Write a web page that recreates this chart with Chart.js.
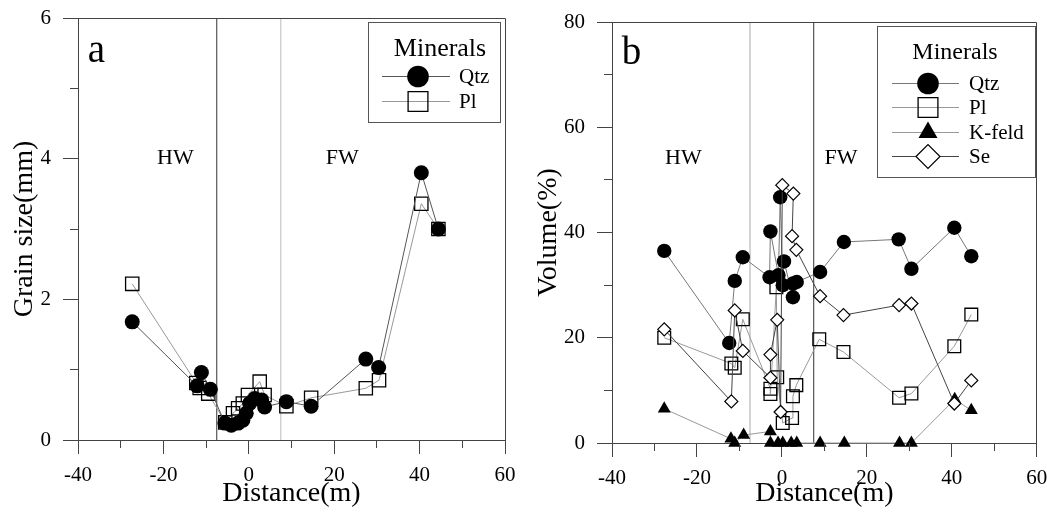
<!DOCTYPE html>
<html>
<head>
<meta charset="utf-8">
<script src="https://cdn.jsdelivr.net/npm/chart.js@4.4.0/dist/chart.umd.min.js"></script>
<style>
  html, body { margin: 0; padding: 0; background: #fff; }
  #wrap { position: relative; width: 1047px; height: 516px; }
  .panel { position: absolute; top: 0; }
</style>
</head>
<body>
<div id="wrap">
  <div class="panel" style="left:0;width:520px;height:516px"><canvas id="chartA" width="520" height="516"></canvas></div>
  <div class="panel" style="left:520px;width:527px;height:516px"><canvas id="chartB" width="527" height="516"></canvas></div>
</div>
<script>
// ---- values ----
const xTicks = [-40, -20, 0, 20, 40, 60];
const xMinorTicks = [-30, -10, 10, 30, 50];
const yTicksA = [0, 2, 4, 6];
const yMinorTicksA = [1, 3, 5];
const yTicksB = [0, 20, 40, 60, 80];
const yMinorTicksB = [10, 30, 50, 70];

// HW / FW contacts (m)
const contactDist = [-7.5, 7.5];

// panel a: grain size (mm)
const qtzSizeDist = [-27.3, -12.1, -11.1, -9.0, -5.6, -4.1, -2.5, -1.4, -0.6, 0.2, 1.4, 3.0, 3.7, 8.8, 14.6, 27.4, 30.4, 40.4, 44.4];
const qtzSize     = [1.68, 0.77, 0.96, 0.72, 0.24, 0.21, 0.24, 0.28, 0.38, 0.52, 0.59, 0.57, 0.47, 0.545, 0.48, 1.15, 1.03, 3.80, 3.00];
const plSizeDist  = [-27.3, -12.3, -11.5, -9.5, -5.5, -3.7, -2.5, -1.4, -0.2, 2.55, 3.7, 8.8, 14.6, 27.4, 30.5, 40.4, 44.4];
const plSize      = [2.22, 0.81, 0.74, 0.66, 0.25, 0.38, 0.45, 0.52, 0.64, 0.83, 0.64, 0.48, 0.60, 0.735, 0.85, 3.36, 3.00];

// panel b: volume (%)
const qtzVolDist = [-27.7, -12.4, -11.1, -9.2, -2.9, -2.7, -0.8, -0.4, 0.2, 0.5, 2.6, 2.6, 3.5, 9.0, 14.6, 27.5, 30.5, 40.6, 44.6];
const qtzVol     = [36.5, 19.0, 30.8, 35.3, 31.5, 40.2, 31.9, 46.7, 30.0, 34.5, 27.7, 30.3, 30.6, 32.5, 38.2, 38.7, 33.1, 40.9, 35.5];
const plVolDist  = [-27.7, -11.9, -11.1, -9.2, -2.7, -2.7, -1.3, -1.1, 0.2, 2.4, 2.6, 3.4, 8.8, 14.5, 27.6, 30.5, 40.6, 44.6];
const plVol      = [20.0, 15.1, 14.3, 23.5, 10.3, 9.3, 29.6, 12.5, 3.8, 4.75, 8.9, 11.0, 19.7, 17.3, 8.6, 9.4, 18.4, 24.4];
const kfVolDist  = [-27.7, -12.0, -11.1, -9.0, -2.7, -2.7, -0.9, 0.2, 2.2, 3.5, 9.0, 14.7, 27.7, 30.5, 40.7, 44.6];
const kfVol      = [6.5, 0.8, 0.0, 1.5, 2.2, 0.0, 0.0, 0.0, 0.0, 0.0, 0.0, 0.0, 0.0, 0.0, 8.3, 6.2];
const seVolDist  = [-27.7, -11.9, -11.1, -9.2, -2.7, -2.7, -1.1, -0.3, 0.1, 2.7, 2.4, 3.4, 9.0, 14.5, 27.6, 30.5, 40.6, 44.6];
const seVol      = [21.6, 7.9, 25.2, 17.5, 12.4, 16.8, 23.4, 5.9, 49.0, 47.4, 39.3, 36.7, 27.9, 24.3, 26.2, 26.5, 7.5, 11.9];

const serif = '"Liberation Serif", "Times New Roman", serif';

function pts(xs, ys) {
    return xs.map((v, i) => ({x: v, y: ys[i]}));
}

// one mineral series: markers joined by a thin line
function series(label, xs, ys, style) {
    return Object.assign({
        label: label,
        data: pts(xs, ys),
        showLine: true,
        borderWidth: 1,
        clip: false,
        inLegend: true,
        order: 1
    }, style);
}

// vertical contact line from bottom to top of the y axis
function contact(xv, yTicks, color) {
    return {
        data: [{x: xv, y: yTicks[0]}, {x: xv, y: yTicks[yTicks.length - 1]}],
        showLine: true,
        borderColor: color,
        borderWidth: 1,
        pointRadius: 0,
        inLegend: false,
        order: 9
    };
}

const qtzStyle = {pointStyle: 'circle', pointRadius: 7.5, pointBackgroundColor: '#000', pointBorderColor: '#000', pointBorderWidth: 0, legendRadius: 10.8};
const plStyle  = {pointStyle: 'rect', pointRadius: 9.4, pointBackgroundColor: 'rgba(0,0,0,0)', pointBorderColor: '#000', pointBorderWidth: 1.3, legendRadius: 14};
const kfStyle  = {pointStyle: 'triangle', pointRadius: 7.5, pointBackgroundColor: '#000', pointBorderColor: '#000', pointBorderWidth: 0, legendRadius: 11};
const seStyle  = {pointStyle: 'rectRot', pointRadius: 6.5, pointBackgroundColor: '#fff', pointBorderColor: '#000', pointBorderWidth: 1.2, legendRadius: 12, order: 0};

// top/right frame and the short minor ticks
const frameTicks = {
    id: 'frameTicks',
    afterDraw(chart, args, opts) {
        const {ctx, chartArea: a, scales: {x, y}} = chart;
        const al = v => Math.round(v - 0.5) + 0.5;
        ctx.save();
        ctx.strokeStyle = opts.color;
        ctx.lineWidth = 1;
        ctx.beginPath();
        ctx.moveTo(al(a.left), al(a.top));
        ctx.lineTo(al(a.right), al(a.top));
        ctx.lineTo(al(a.right), al(a.bottom));
        opts.xMinor.forEach(v => {
            const px = al(x.getPixelForValue(v));
            ctx.moveTo(px, a.bottom);
            ctx.lineTo(px, a.bottom + opts.minorLen);
        });
        opts.yMinor.forEach(v => {
            const py = al(y.getPixelForValue(v));
            ctx.moveTo(a.left, py);
            ctx.lineTo(a.left - opts.minorLen, py);
        });
        ctx.stroke();
        ctx.restore();
    }
};

// panel letter and HW / FW labels
const panelText = {
    id: 'panelText',
    afterDatasetsDraw(chart, args, opts) {
        const {ctx, scales: {x, y}} = chart;
        ctx.save();
        ctx.fillStyle = '#000';
        ctx.textBaseline = 'alphabetic';
        opts.items.forEach(t => {
            ctx.font = t.size + 'px ' + serif;
            ctx.textAlign = t.align;
            ctx.fillText(t.text, x.getPixelForValue(t.x), y.getPixelForValue(t.y));
        });
        ctx.restore();
    }
};

// boxed "Minerals" legend inside the plot area
const boxLegend = {
    id: 'boxLegend',
    afterDraw(chart, args, opts) {
        const {ctx, chartArea: a} = chart;
        const left = Math.round(a.right - opts.right - opts.width);
        const top = Math.round(a.top + opts.top);
        ctx.save();
        ctx.fillStyle = '#fff';
        ctx.fillRect(left, top, opts.width, opts.height);
        ctx.strokeStyle = '#555';
        ctx.lineWidth = 1;
        ctx.strokeRect(left + 0.5, top + 0.5, opts.width, opts.height);

        ctx.fillStyle = '#000';
        ctx.font = opts.titleSize + 'px ' + serif;
        ctx.textAlign = 'center';
        ctx.textBaseline = 'alphabetic';
        ctx.fillText(opts.title, left + opts.titleX, top + opts.titleBaseline);

        const items = chart.data.datasets.filter(d => d.inLegend);
        items.forEach((ds, i) => {
            const cy = Math.round(top + opts.firstRow + i * opts.rowStep) + 0.5;
            ctx.strokeStyle = ds.borderColor;
            ctx.lineWidth = 1;
            ctx.beginPath();
            ctx.moveTo(left + opts.lineFrom, cy);
            ctx.lineTo(left + opts.lineTo, cy);
            ctx.stroke();

            ctx.fillStyle = ds.pointBackgroundColor;
            ctx.strokeStyle = ds.pointBorderColor;
            ctx.lineWidth = ds.pointBorderWidth;
            Chart.helpers.drawPoint(ctx, {
                pointStyle: ds.pointStyle,
                radius: ds.legendRadius,
                borderWidth: ds.pointBorderWidth,
                rotation: 0
            }, left + opts.markerX, cy);

            ctx.fillStyle = '#000';
            ctx.font = opts.labelSize + 'px ' + serif;
            ctx.textAlign = 'left';
            ctx.textBaseline = 'middle';
            ctx.fillText(ds.label, left + opts.textX, cy + 1);
        });
        ctx.restore();
    }
};

// keep label overflow from pushing the plot area in; layout padding decides it
function noOverflow(s) {
    s.paddingTop = 0;
    s.paddingBottom = 0;
    s.paddingLeft = 0;
    s.paddingRight = 0;
}

function makeScales(yTicks, yTitle, yWidth, xHeight, yTitlePad) {
    const tickFont = {family: serif, size: 21};
    return {
        x: {
            type: 'linear',
            min: xTicks[0],
            max: xTicks[xTicks.length - 1],
            afterBuildTicks: s => { s.ticks = xTicks.map(v => ({value: v})); },
            ticks: {font: tickFont, color: '#000', padding: 9, maxRotation: 0, autoSkip: false, callback: v => String(v)},
            grid: {drawOnChartArea: false, tickLength: 14, color: '#444'},
            border: {color: '#444'},
            title: {display: true, text: 'Distance(m)', color: '#000', font: {family: serif, size: 28}, padding: {top: 0, bottom: 2}},
            afterFit: s => { s.height = xHeight; noOverflow(s); }
        },
        y: {
            type: 'linear',
            min: yTicks[0],
            max: yTicks[yTicks.length - 1],
            afterBuildTicks: s => { s.ticks = yTicks.map(v => ({value: v})); },
            ticks: {font: tickFont, color: '#000', padding: 12, autoSkip: false, callback: v => String(v)},
            grid: {drawOnChartArea: false, tickLength: 15, color: '#444'},
            border: {color: '#444'},
            title: {display: true, text: yTitle, color: '#000', font: {family: serif, size: 28}, padding: {top: yTitlePad, bottom: 0}},
            afterFit: s => { s.width = yWidth; noOverflow(s); }
        }
    };
}

const chartA = new Chart(document.getElementById('chartA').getContext('2d'), {
    type: 'scatter',
    data: {
        datasets: [
            series('Qtz', qtzSizeDist, qtzSize, Object.assign({borderColor: '#555'}, qtzStyle)),
            series('Pl', plSizeDist, plSize, Object.assign({borderColor: '#999'}, plStyle)),
            contact(contactDist[0], yTicksA, '#333'),
            contact(contactDist[1], yTicksA, '#bbb')
        ]
    },
    options: {
        responsive: false,
        animation: false,
        events: [],
        layout: {padding: {left: 4, top: 18, right: 15, bottom: 4}},
        scales: makeScales(yTicksA, 'Grain size(mm)', 74, 72, 4),
        plugins: {
            legend: {display: false},
            tooltip: {enabled: false},
            frameTicks: {color: '#444', minorLen: 8, xMinor: xMinorTicks, yMinor: yMinorTicksA},
            panelText: {items: [
                {text: 'a', x: -37.7, y: 5.38, size: 39, align: 'left'},
                {text: 'HW', x: -17.2, y: 3.93, size: 22, align: 'center'},
                {text: 'FW', x: 21.9, y: 3.93, size: 22, align: 'center'}
            ]},
            boxLegend: {title: 'Minerals', width: 132, height: 100, right: 5, top: 4,
                titleSize: 26, labelSize: 21, titleX: 72, titleBaseline: 33.5, firstRow: 53.7, rowStep: 25,
                lineFrom: 14, lineTo: 82, markerX: 50, textX: 91}
        }
    },
    plugins: [frameTicks, panelText, boxLegend]
});

const chartB = new Chart(document.getElementById('chartB').getContext('2d'), {
    type: 'scatter',
    data: {
        datasets: [
            series('Qtz', qtzVolDist, qtzVol, Object.assign({borderColor: '#777'}, qtzStyle, {pointRadius: 7.2})),
            series('Pl', plVolDist, plVol, Object.assign({borderColor: '#999'}, plStyle, {pointRadius: 9})),
            series('K-feld', kfVolDist, kfVol, Object.assign({borderColor: '#999'}, kfStyle)),
            series('Se', seVolDist, seVol, Object.assign({borderColor: '#444'}, seStyle)),
            contact(contactDist[0], yTicksB, '#aaa'),
            contact(contactDist[1], yTicksB, '#333')
        ]
    },
    options: {
        responsive: false,
        animation: false,
        events: [],
        layout: {padding: {left: 4, top: 22, right: 9, bottom: 4}},
        scales: makeScales(yTicksB, 'Volume(%)', 88, 69, 8),
        plugins: {
            legend: {display: false},
            tooltip: {enabled: false},
            frameTicks: {color: '#444', minorLen: 8, xMinor: xMinorTicks, yMinor: yMinorTicksB},
            panelText: {items: [
                {text: 'b', x: -37.7, y: 72.1, size: 39, align: 'left'},
                {text: 'HW', x: -23.2, y: 53.1, size: 22, align: 'center'},
                {text: 'FW', x: 13.9, y: 53.1, size: 22, align: 'center'}
            ]},
            boxLegend: {title: 'Minerals', width: 158, height: 151, right: 1.5, top: 3.5,
                titleSize: 24, labelSize: 21, titleX: 78, titleBaseline: 33, firstRow: 56.7, rowStep: 24.5,
                lineFrom: 15, lineTo: 82, markerX: 51, textX: 92}
        }
    },
    plugins: [frameTicks, panelText, boxLegend]
});
</script>
</body>
</html>
